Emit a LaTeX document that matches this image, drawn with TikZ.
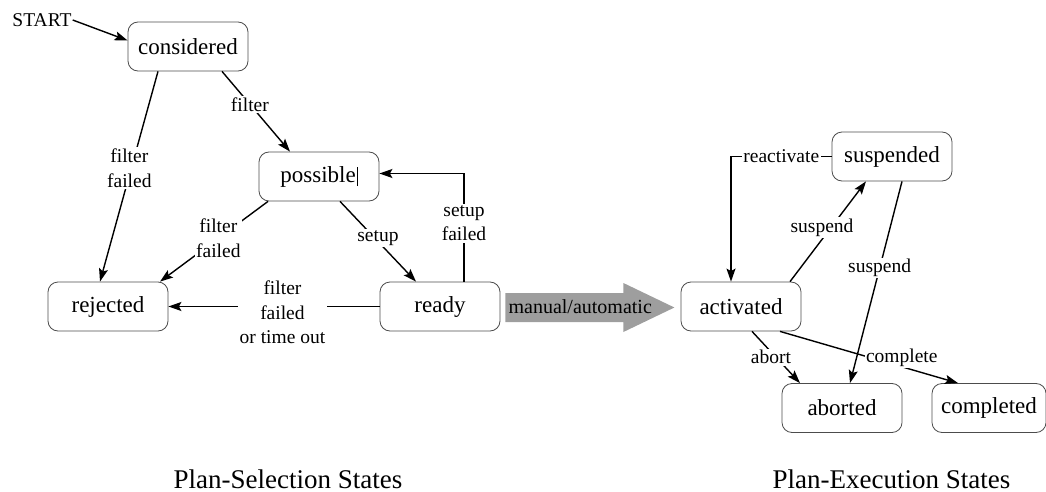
\documentclass[tikz,border=0pt]{standalone}
\usepackage{fontspec}
\setmainfont{Liberation Serif}
\usetikzlibrary{arrows.meta}

\tikzset{
  state/.style={draw=black!70, line width=0.8pt, rounded corners=10pt,
    minimum width=120pt, minimum height=49pt, inner sep=0pt,
    font=\fontsize{23}{27}\selectfont},
  lbl/.style={fill=white, align=center, inner sep=1.5pt,
    font=\fontsize{19.5}{24.5}\selectfont},
  trans/.style={draw, line width=1.4pt,
    -{Stealth[length=13pt,width=9pt,inset=2.5pt]}},
  caption/.style={font=\fontsize{27}{32}\selectfont, anchor=base},
}

\begin{document}
\begin{tikzpicture}[x=1pt,y=-1pt]
  \useasboundingbox (0,0) rectangle (1046,492);

  % plan-selection states
  \node[state] (considered) at (188,46.5) {considered};
  \node[state] (possible)   at (319,176.5) {possible\hspace{1pt}\rule[-4pt]{0.8pt}{19pt}};
  \node[state] (rejected)   at (108,306.5) {rejected};
  \node[state] (ready)      at (440,306.5) {ready};
  \node[font=\fontsize{19.5}{24}\selectfont, inner sep=1pt] (start) at (42,20) {START};

  % plan-execution states
  \node[state] (activated) at (741,306.5) {activated};
  \node[state] (suspended) at (892,156.5) {suspended};
  \node[state] (aborted)   at (842,408) {aborted};
  \node[state, minimum width=114pt] (completed) at (989,408) {completed};

  % transitions among selection states
  \draw[trans] (start.east) -- ([yshift=6pt]considered.west);
  \draw[trans] ([xshift=-30pt]considered.south) --
    node[lbl, pos=0.46, xshift=-2pt] {filter\\failed} ([xshift=-8pt]rejected.north);
  \draw[trans] ([xshift=34pt]considered.south) --
    node[lbl, pos=0.41] {filter} ([xshift=-29pt]possible.north);
  \draw[trans] ([xshift=-51pt]possible.south) --
    node[lbl, pos=0.46] {filter\\failed} ([xshift=52pt]rejected.north);
  \draw[trans] ([xshift=21pt]possible.south) --
    node[lbl, pos=0.46, xshift=3pt] {setup} ([xshift=-24pt]ready.north);
  \draw[trans] ([xshift=24pt]ready.north) |-
    node[lbl, pos=0.27] {setup\\failed} ([yshift=3pt]possible.east);
  \draw[trans] (ready.west) --
    node[lbl, pos=0.46, yshift=-6pt] {filter\\failed\\or time out} (rejected.east);

  % hand-over from selection to execution: a broad grey arrow
  \fill[black!38]
    ([shift={(5,-13.5)}]ready.east) -- ++(118,0) -- ++(0,-10)
    -- ++(51,24.5) -- ++(-51,24.5) -- ++(0,-10) -- ++(-118,0) -- cycle;
  \node[font=\fontsize{20}{24}\selectfont, inner sep=0pt, anchor=west]
    (handoff) at ([shift={(8,0.5)}]ready.east) {manual/automatic};

  % transitions among execution states
  \draw[trans] ([xshift=49pt]activated.north) --
    node[lbl, pos=0.54, xshift=-9pt] {suspend} ([xshift=-26pt]suspended.south);
  \draw[trans] (suspended.west) -|
    node[lbl, pos=0.25] {reactivate} ([xshift=-10pt]activated.north);
  \draw[trans] ([xshift=10pt]suspended.south) --
    node[lbl, pos=0.43] {suspend} ([xshift=8pt]aborted.north);
  \draw[trans] ([xshift=11pt]activated.south) --
    node[lbl, pos=0.5, xshift=-5pt] {abort} ([xshift=-42pt]aborted.north);
  \draw[trans] ([xshift=39pt]activated.south) --
    node[lbl, pos=0.6, xshift=15pt, yshift=5pt] {complete} ([xshift=-31pt]completed.north);

  % captions
  \node[caption] (selcap) at (288,488) {Plan-Selection States};
  \node[caption] (execap) at (891.5,488) {Plan-Execution States};
\end{tikzpicture}
\end{document}
